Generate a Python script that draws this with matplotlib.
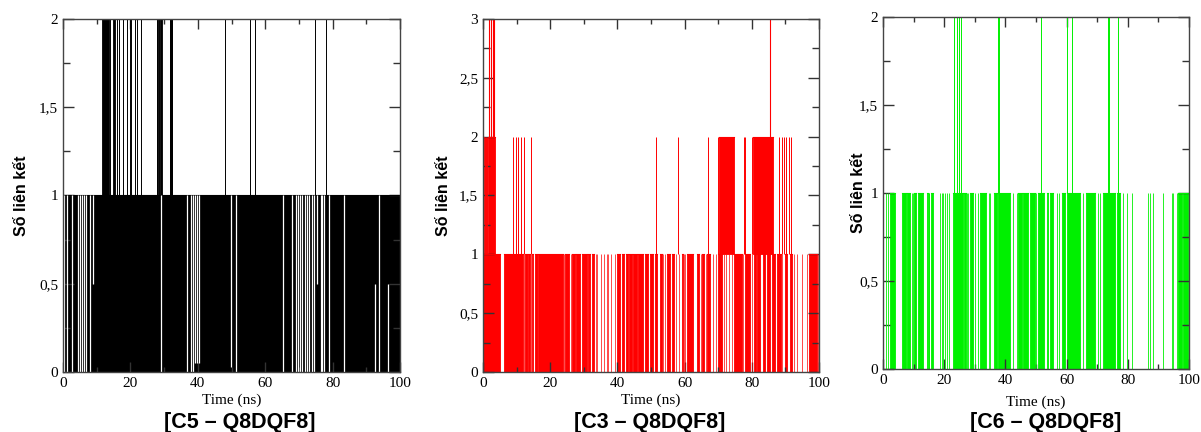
import matplotlib
matplotlib.use("Agg")
import matplotlib.pyplot as plt
from matplotlib.ticker import MultipleLocator, FuncFormatter

# Số liên kết hydro theo thời gian (ns), đọc từ hình gốc
# mỗi dải (bắt đầu, kết thúc) = vùng dao động dày đặc giữa hai mức

# --- C5 - Q8DQF8 (đen) ---
c5_band01 = [(0.0, 100.0)]
c5_gaps = [(0.3, 0, 1), (1.3, 0, 1), (2.7, 0, 1), (4.5, 0, 1), (5.0, 0, 1), (5.6, 0, 1),
           (6.2, 0, 1), (6.8, 0, 1), (8.0, 0, 1), (9.0, 0.5, 1), (29.1, 0, 1), (36.7, 0, 1),
           (37.9, 0, 1), (38.5, 0, 1), (39.3, 0.05, 1), (39.7, 0.05, 1), (40.2, 0.05, 1),
           (49.8, 0.03, 1), (51.3, 0, 1), (65.2, 0, 1), (67.8, 0, 1), (69.1, 0, 1), (69.7, 0, 1),
           (70.3, 0, 1), (71.0, 0, 1), (71.8, 0, 1), (72.5, 0, 1), (73.1, 0, 1), (73.8, 0, 1),
           (74.5, 0, 1), (75.5, 0.5, 1), (76.4, 0, 1), (76.9, 0, 1), (77.5, 0, 1), (78.8, 0, 1),
           (83.4, 0, 1), (92.6, 0, 0.5), (93.8, 0, 1), (96.5, 0, 0.5)]
c5_band12 = [(11.7, 13.5), (14.7, 15.3), (27.9, 28.3), (28.9, 29.3), (31.7, 32.3)]
c5_spike12 = [14.0, 15.9, 16.6, 17.9, 18.9, 19.8, 20.1, 21.4, 21.9, 23.2, 27.8,
              28.5, 31.6, 32.4, 48.2, 55.5, 57.0, 74.9, 78.1]

# --- C3 - Q8DQF8 (đỏ) ---
c3_band01 = [(0.0, 4.9), (6.2, 11.8), (12.5, 13.0), (13.5, 14.0), (14.5, 15.0), (15.5, 16.0),
             (16.5, 23.7), (24.4, 25.7), (26.5, 27.3), (27.7, 28.9), (29.4, 30.9), (31.3, 31.8),
             (32.3, 33.0), (39.8, 40.8), (41.3, 42.0), (42.5, 43.1), (43.5, 44.2), (44.7, 45.7),
             (46.2, 47.7), (48.2, 49.2), (49.7, 50.7), (51.2, 51.9), (52.7, 53.2), (54.8, 55.5),
             (56.2, 56.8), (59.2, 59.6), (60.8, 62.6), (63.6, 64.4), (65.1, 65.8), (66.6, 67.6),
             (70.0, 71.0), (74.7, 77.0), (78.0, 79.5), (80.7, 81.3), (81.6, 82.4), (83.2, 83.9),
             (84.4, 85.5), (85.9, 86.9), (87.4, 88.6), (89.9, 90.6), (91.2, 91.9), (97.1, 99.3)]
c3_lines01 = [12.2, 13.2, 14.2, 16.2, 24.0, 26.1, 33.5, 34.0, 35.0, 36.0, 36.8, 37.3, 38.0,
              39.2, 53.7, 54.2, 57.5, 58.4, 59.9, 60.2, 64.8, 66.3, 68.3, 69.3, 71.6, 72.4,
              73.1, 74.0, 77.5, 80.0, 89.0, 92.5, 93.3, 94.8, 96.3, 99.8]
c3_band12 = [(0.0, 0.4), (1.6, 3.6), (70.3, 74.7), (80.3, 86.3)]
c3_lines12 = [0.7, 1.0, 1.3, 9.0, 9.8, 10.5, 11.2, 12.2, 14.2, 51.4, 58.1, 67.0, 69.9,
              77.7, 78.0, 80.0, 88.2, 88.9, 89.6, 90.2, 90.9, 91.6]
c3_spike23 = [1.8, 2.3, 3.1, 3.4, 85.4]

# --- C6 - Q8DQF8 (xanh) ---
c6_band01 = [(2.2, 3.9), (6.1, 7.5), (7.7, 8.8), (10.1, 10.8), (11.5, 13.0), (14.3, 14.6),
             (15.6, 16.4), (23.0, 26.3), (26.6, 27.0), (28.6, 29.5), (31.7, 33.6), (36.3, 37.1),
             (37.7, 41.5), (44.2, 45.3), (45.9, 47.5), (48.0, 49.7), (50.8, 52.6), (53.5, 54.0),
             (54.6, 55.7), (58.4, 59.5), (60.0, 64.4), (66.3, 69.3), (71.8, 75.8), (76.4, 77.5),
             (96.5, 97.6), (98.1, 99.8)]
c6_lines01 = [1.0, 1.8, 9.4, 9.7, 14.9, 15.1, 18.6, 19.2, 19.7, 20.3, 20.8, 21.5, 27.3, 27.9,
              30.0, 31.2, 34.5, 35.0, 42.6, 43.7, 50.0, 56.8, 57.5, 65.5, 70.2, 71.0,
              78.5, 79.6, 81.3, 86.7, 87.2, 88.3, 91.6, 94.3, 94.9, 96.0]
c6_spike12 = [23.2, 24.1, 24.8, 25.4, 37.7, 38.0, 51.7, 60.0, 61.9, 73.6, 74.0, 76.8]

titles = ["[C5 \u2013 Q8DQF8]", "[C3 \u2013 Q8DQF8]", "[C6 \u2013 Q8DQF8]"]


def comma(v, pos):
    return f"{v:g}".replace(".", ",")


def bands(ax, lst, lo, hi, c):
    for s, e in lst:
        ax.fill_between([s, e], lo, hi, color=c, lw=0.6, edgecolor=c)
        ax.plot([s, e], [hi, hi], color=c, lw=0.8)


def style(ax, ytop, xpad, ylab_x):
    ax.set_xlim(0, 100)
    ax.set_ylim(0, ytop)
    ax.xaxis.set_major_locator(MultipleLocator(20))
    ax.xaxis.set_minor_locator(MultipleLocator(10))
    ax.yaxis.set_major_locator(MultipleLocator(0.5))
    ax.yaxis.set_minor_locator(MultipleLocator(0.25))
    ax.yaxis.set_major_formatter(FuncFormatter(comma))
    ax.tick_params(which="both", direction="in", top=True, right=True,
                   color="#333333", width=1)
    ax.tick_params(axis="y", which="major", length=8)
    ax.tick_params(axis="y", which="minor", length=5)
    ax.tick_params(axis="x", which="major", length=7)
    ax.tick_params(axis="x", which="minor", length=3.5)
    for lab in ax.get_xticklabels() + ax.get_yticklabels():
        lab.set_fontfamily("Liberation Serif")
        lab.set_fontsize(11)
    for sp in ax.spines.values():
        sp.set_color("#444444")
        sp.set_linewidth(1)
    ax.set_xlabel("Time (ns)", fontfamily="Liberation Serif", fontsize=11, labelpad=xpad)
    ax.set_ylabel("S\u1ed1 li\u00ean k\u1ebft", fontfamily="Liberation Sans",
                  fontweight="bold", fontsize=11.5)
    ax.yaxis.set_label_coords(ylab_x, 0.5)


fig = plt.figure(figsize=(12.01, 4.32), dpi=100)
ax1 = fig.add_axes([0.0525, 0.139, 0.2806, 0.817])
ax2 = fig.add_axes([0.4022, 0.139, 0.2798, 0.817])
ax3 = fig.add_axes([0.7352, 0.146, 0.2548, 0.815])

# C5
k = "black"
bands(ax1, c5_band01, 0, 1, k)
ax1.vlines([g[0] for g in c5_gaps], [g[1] for g in c5_gaps], [g[2] for g in c5_gaps],
           color="white", lw=0.9)
bands(ax1, c5_band12, 1, 2, k)
ax1.vlines(c5_spike12, 1, 2, color=k, lw=0.7)

# C3
r = "#ff0000"
bands(ax2, c3_band01, 0, 1, r)
ax2.vlines(c3_lines01, 0, 1, color=r, lw=0.5)
bands(ax2, c3_band12, 1, 2, r)
ax2.vlines(c3_lines12, 1, 2, color=r, lw=0.7)
ax2.vlines(c3_spike23, 2, 3, color=r, lw=0.8)

# C6
g = "#00f000"
bands(ax3, c6_band01, 0, 1, g)
ax3.vlines(c6_lines01, 0, 1, color=g, lw=0.6)
ax3.vlines(c6_spike12, 1, 2, color=g, lw=0.7)

style(ax1, 2, 3, -0.101)
style(ax2, 3, 3, -0.095)
style(ax3, 2, 6, -0.055)

# tiêu đề dưới mỗi hình
for x, t in zip([240, 650, 1046], titles):
    fig.text(x / 1201, 0.022, t, ha="center", va="center",
             fontfamily="Liberation Sans", fontweight="bold", fontsize=15.5)

fig.savefig("out.png", dpi=100)
